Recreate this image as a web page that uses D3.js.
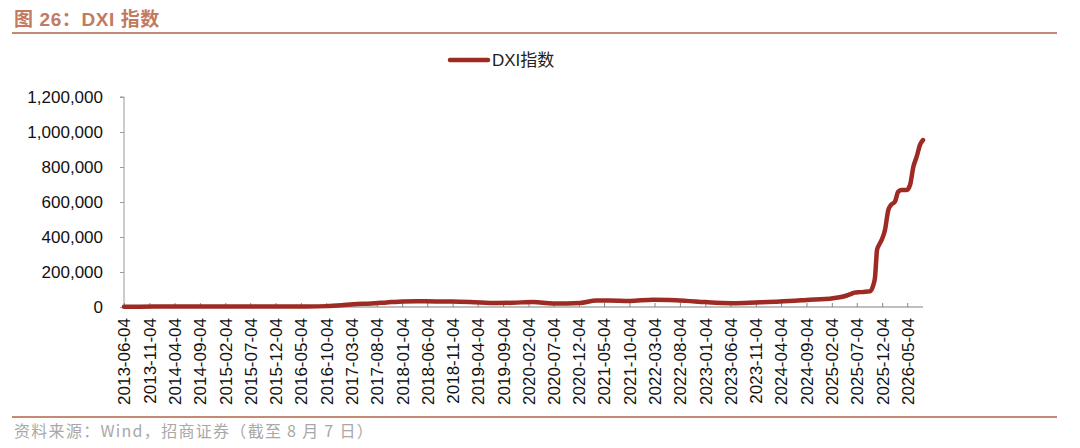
<!DOCTYPE html>
<html>
<head>
<meta charset="utf-8">
<script src="https://cdn.jsdelivr.net/npm/d3@7/dist/d3.min.js"></script>
<style>
  html, body { margin: 0; padding: 0; background: #fff; }
  svg { display: block; }
</style>
</head>
<body>
<svg id="chart" width="1080" height="448"></svg>
<script>
// ---- data ----
const seriesName = "DXI指数";
const dates = [
  "2013-06-04","2013-12-04","2014-06-04","2014-12-04","2015-06-04","2015-12-04",
  "2016-06-04","2016-10-04","2017-01-04","2017-03-14","2017-07-01","2017-10-02",
  "2018-01-09","2018-04-01","2018-07-30","2018-11-01","2019-02-16","2019-07-27",
  "2019-11-01","2020-03-03","2020-07-01","2020-12-09","2021-03-20","2021-06-01",
  "2021-10-06","2022-02-23","2022-06-01","2022-09-12","2023-01-04","2023-06-20",
  "2023-11-04","2024-03-27","2024-09-04","2025-02-11","2025-04-15","2025-06-01",
  "2025-06-20","2025-07-24","2025-09-22","2025-10-12","2025-10-22","2025-10-28",
  "2025-11-03","2025-11-15","2025-12-01","2025-12-21","2026-01-10","2026-01-26",
  "2026-02-19","2026-03-11","2026-04-01","2026-05-01","2026-05-21","2026-06-10",
  "2026-06-30","2026-07-20","2026-08-07"
];
const values = [
  2000,2200,2500,2800,3200,3000,
  3500,5000,10000,16000,20000,26000,
  32000,33000,32000,31000,29000,23000,
  24000,29000,20000,23000,37000,37000,
  35000,42000,40000,35000,28000,22000,
  26000,31000,40000,50000,60000,75000,
  82000,85000,90000,126000,170000,250000,
  326000,354000,383000,440000,554000,583000,
  602000,659000,669000,669000,697000,802000,
  859000,926000,954000
];
const xTickLabels = [
  "2013-06-04","2013-11-04","2014-04-04","2014-09-04","2015-02-04","2015-07-04",
  "2015-12-04","2016-05-04","2016-10-04","2017-03-04","2017-08-04","2018-01-04",
  "2018-06-04","2018-11-04","2019-04-04","2019-09-04","2020-02-04","2020-07-04",
  "2020-12-04","2021-05-04","2021-10-04","2022-03-04","2022-08-04","2023-01-04",
  "2023-06-04","2023-11-04","2024-04-04","2024-09-04","2025-02-04","2025-07-04",
  "2025-12-04","2026-05-04"
];
const yTicks = [0, 200000, 400000, 600000, 800000, 1000000, 1200000];
const titleText = "图 26：DXI 指数";
const sourceText = "资料来源：Wind，招商证券（截至 8 月 7 日）";

// ---- drawing ----
(function () {
const parse = d3.timeParse("%Y-%m-%d");
const data = dates.map((d, i) => ({ date: parse(d), value: values[i] }));

const svg = d3.select("#chart");
const accent = "#C48A74";
const lineColor = "#9E2A24";
const fontLatin = "'Liberation Sans', Arial, 'Noto Sans CJK SC', sans-serif";

const pLeft = 124, pRight = 923, pTop = 97, pBottom = 307;

const x = d3.scaleTime()
  .domain([parse("2013-06-04"), parse("2026-08-07")])
  .range([pLeft, pRight]);
const y = d3.scaleLinear()
  .domain([0, 1200000])
  .range([pBottom, pTop]);

// title
svg.append("text")
  .attr("x", 14).attr("y", 26)
  .attr("fill", "#C27A60")
  .attr("font-family", fontLatin)
  .attr("font-weight", "bold")
  .attr("font-size", 19)
  .attr("letter-spacing", 0.6)
  .text(titleText);

svg.append("line")
  .attr("x1", 12).attr("x2", 1057).attr("y1", 33).attr("y2", 33)
  .attr("stroke", accent).attr("stroke-width", 2);

// legend
svg.append("line")
  .attr("x1", 450).attr("x2", 488).attr("y1", 60).attr("y2", 60)
  .attr("stroke", lineColor).attr("stroke-width", 4.5).attr("stroke-linecap", "round");
svg.append("text")
  .attr("x", 492).attr("y", 66)
  .attr("fill", "#222")
  .attr("font-family", fontLatin)
  .attr("font-size", 17)
  .text(seriesName);

// y axis
const yAxis = d3.axisLeft(y)
  .tickValues(yTicks)
  .tickSize(4)
  .tickPadding(17)
  .tickFormat(d3.format(","));
const gy = svg.append("g").attr("transform", `translate(${pLeft},0)`).call(yAxis);
gy.select(".domain").attr("stroke", "#999").attr("d", `M-4,${pTop}H0V${pBottom}`);
gy.selectAll(".tick line").attr("stroke", "#999");
gy.selectAll(".tick text")
  .attr("fill", "#111")
  .attr("font-family", fontLatin)
  .attr("font-size", 17);

// x axis
const xAxis = d3.axisBottom(x)
  .tickValues(xTickLabels.map(parse))
  .tickSize(0)
  .tickFormat(d3.timeFormat("%Y-%m-%d"));
const gx = svg.append("g").attr("transform", `translate(0,${pBottom})`).call(xAxis);
gx.select(".domain").attr("stroke", "#aaa").attr("stroke-width", 1.5).attr("d", `M${pLeft},0H${pRight}`);
gx.selectAll(".tick").append("line")
  .attr("y1", 0).attr("y2", -4)
  .attr("stroke", "#888");
gx.selectAll(".tick text")
  .attr("fill", "#111")
  .attr("font-family", fontLatin)
  .attr("font-size", 17)
  .attr("text-anchor", "end")
  .attr("dy", "0.35em")
  .attr("transform", "translate(0,11) rotate(-90)")
  .attr("x", 0).attr("y", 0);

// line
const line = d3.line()
  .x(d => x(d.date))
  .y(d => y(d.value))
  .curve(d3.curveMonotoneX);
svg.append("path")
  .datum(data)
  .attr("fill", "none")
  .attr("stroke", lineColor)
  .attr("stroke-width", 4.5)
  .attr("stroke-linejoin", "round")
  .attr("stroke-linecap", "round")
  .attr("d", line);

// bottom rule + source
svg.append("line")
  .attr("x1", 12).attr("x2", 1057).attr("y1", 417).attr("y2", 417)
  .attr("stroke", accent).attr("stroke-width", 2);
svg.append("text")
  .attr("x", 14).attr("y", 437)
  .attr("fill", "#A8A8A8")
  .attr("font-family", "'Noto Sans CJK SC', sans-serif")
  .attr("font-size", 16)
  .attr("letter-spacing", 1.3)
  .text(sourceText);
})();
</script>
</body>
</html>
